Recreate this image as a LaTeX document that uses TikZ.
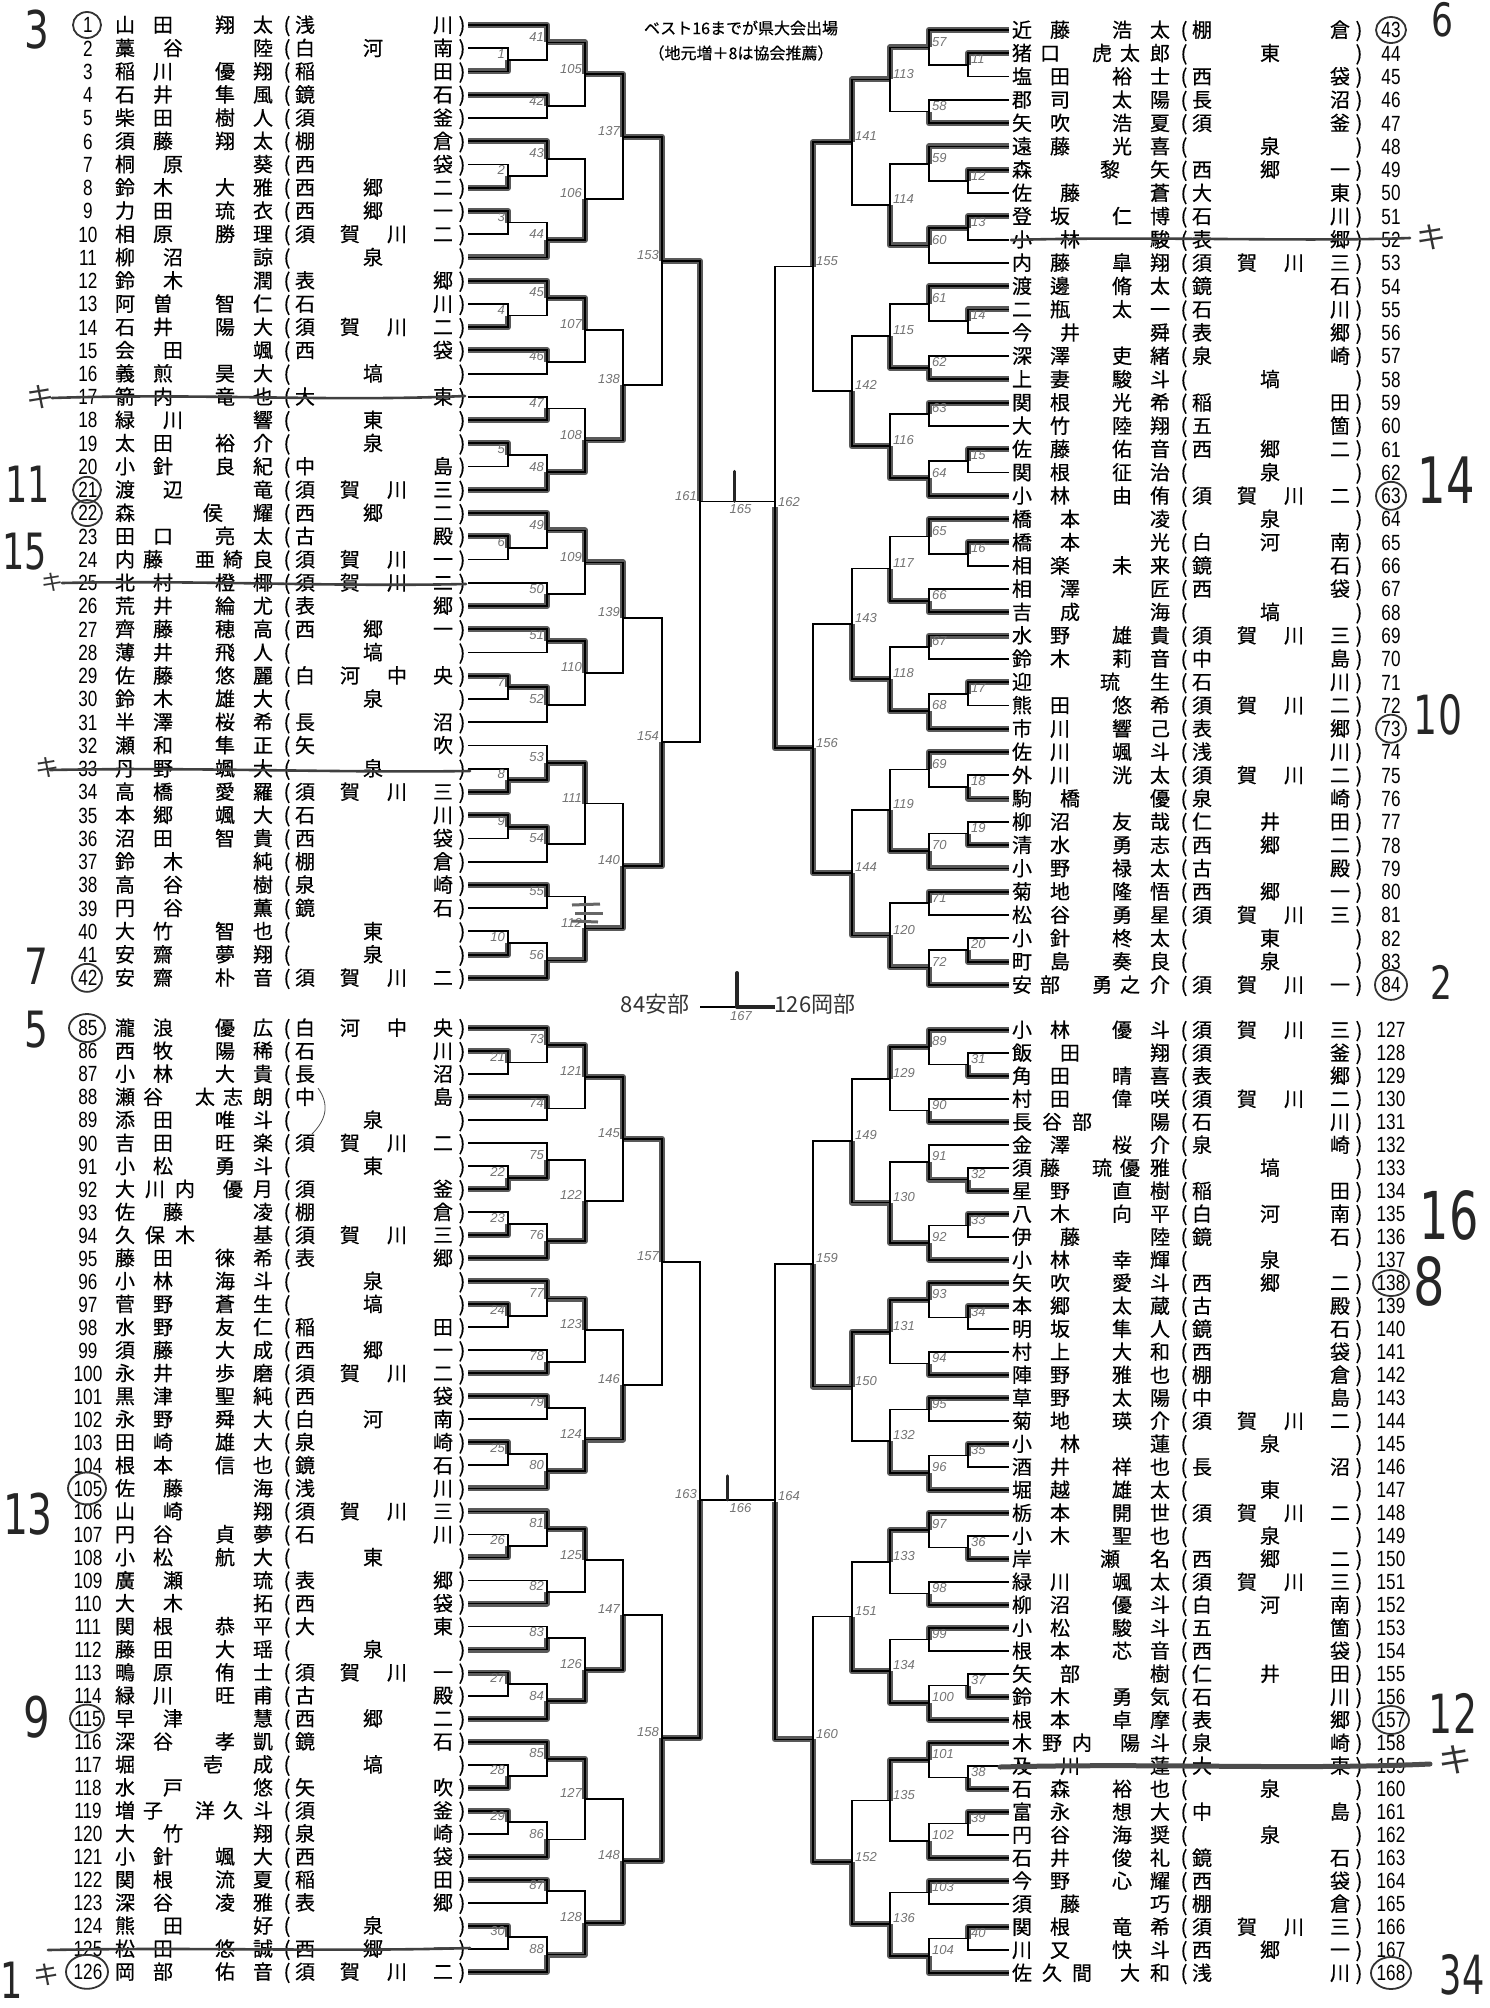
\documentclass[tikz,border=0pt]{standalone}
\usepackage{fontspec}
\usepackage{graphicx}
\setmainfont{Liberation Sans}
\newfontfamily\jp{Noto Sans CJK JP}
\newfontfamily\jpb{Noto Sans CJK JP}[FakeBold=0.5]
\newfontfamily\numf{Liberation Sans}
\newfontfamily\hand{DejaVu Sans}
\usetikzlibrary{calc}
\pgfdeclarelayer{bg}
\pgfsetlayers{bg,main}

\tikzset{
 jpc/.style={font=\jpb\fontsize{20}{20}\selectfont, inner sep=0pt, anchor=base},
 numc/.style={font=\numf\fontsize{22}{22}\selectfont, inner sep=0pt},
 br/.style={line width=1.8pt, black},
 win/.style={line width=6pt, black!65, line join=round},
 lbl/.style={font=\numf\itshape\fontsize{13}{13}\selectfont, text=black!55, inner sep=1pt},
 strikeln/.style={line width=2.6pt, black!75, line cap=round},
 hwt/.style={font=\hand\fontsize{#1}{#1}\selectfont, text=black!85, inner sep=0pt},
 hwj/.style={font=\jp\fontsize{#1}{#1}\selectfont, text=black!80, inner sep=0pt},
 hwline/.style={line width=3pt, black!85, line cap=round},
 circl/.style={line width=1.8pt, black!80},
 headtxt/.style={font=\jpb\fontsize{16}{16}\selectfont, inner sep=0pt},
}

\newcommand\cntlist[2]{\gdef#2{0}\foreach \z in {#1}{\xdef#2{\the\numexpr#2+1\relax}}}
\newcommand\getY[1]{\pgfmathsetmacro\ry{(#1<43)?(25+(#1-1)*23.24):((#1<85)?(30+(#1-43)*23.29):((#1<127)?(1028+(#1-85)*23.02):(1030+(#1-127)*23.0)))}}

% one player row: side, number, surname, given name, school
\newcommand\PR[5]{%
 \getY{#2}%
 \pgfmathsetmacro\by{\ry+7.3}%
 \cntlist{#3}{\nSur}\cntlist{#4}{\nGiv}\cntlist{#5}{\nSch}%
 \ifcase\nSur\or\def\spos{{125,125}}\or
   \ifcase\nGiv\or\def\spos{{125,173}}\or\def\spos{{125,163}}\or\def\spos{{125,153}}\fi
 \or\def\spos{{125,155,185}}\fi
 \ifcase\nGiv\or\def\gpos{{263,263}}\or
   \ifcase\nSur\or\def\gpos{{213,263}}\or\def\gpos{{225,263}}\or\def\gpos{{233,263}}\fi
 \or\def\gpos{{205,233,263}}\fi
 \ifcase\nSch\or\def\cpos{{373,373}}\or\def\cpos{{305,443}}\or\def\cpos{{305,373,443}}\or\def\cpos{{305,350,397,443}}\fi
 \if L#1\relax
   \coordinate (p#2) at (468,\ry);
   \tikzset{cur/.style={}}\def\numx{88}%
 \else
   \coordinate (p#2) at (1009,\ry);
   \tikzset{cur/.style={shift={(897,0)}}}\def\numx{494}%
 \fi
 \begin{scope}[cur]
   \node[numc,anchor=base] (n#2) at (\numx,\ry+7.9) {\scalebox{0.78}[1]{#2}};
   \foreach \ch [count=\kk] in {#3}{\pgfmathsetmacro\xx{\spos[\kk-1]}\node[jpc] (a#2-\kk) at (\xx,\by) {\ch};}
   \foreach \ch [count=\kk] in {#4}{\pgfmathsetmacro\xx{\gpos[\kk-1]}\node[jpc] (b#2-\kk) at (\xx,\by) {\ch};}
   \node[jpc] (o#2) at (287,\by) {(};
   \foreach \ch [count=\kk] in {#5}{\pgfmathsetmacro\xx{\cpos[\kk-1]}\node[jpc] (s#2-\kk) at (\xx,\by) {\ch};}
   \node[jpc] (c#2) at (462,\by) {)};
 \end{scope}
}

% one match: label, input A, input B, vertical x, winner (1 top / 2 bottom), side
\newcommand\Mt[6]{%
 \edef\mL{#1}\edef\mA{#2}\edef\mB{#3}%
 \coordinate (v\mL) at (#4,0);
 \coordinate (m\mL) at ($(\mA -| v\mL)!0.5!(\mB -| v\mL)$);
 \begin{pgfonlayer}{bg}
 \ifcase#5\relax\or \draw[win] (\mA) -- (\mA -| v\mL) -- (m\mL);\or \draw[win] (\mB) -- (\mB -| v\mL) -- (m\mL);\fi
 \end{pgfonlayer}
 \draw[br] (\mA) -- (\mA -| v\mL) -- (\mB -| v\mL) -- (\mB);
 \if L#6\relax \node[lbl,anchor=south east] (l\mL) at ($(m\mL)+(-2,0)$) {\mL};
 \else \node[lbl,anchor=south west] (l\mL) at ($(m\mL)+(2,0)$) {\mL};\fi
}

% one quarter of the draw
\newcommand\Quad[9]{%
 \if L#3\relax \def\xa{508}\def\xb{547}\def\xc{585}\def\xd{623}\def\xe{662}\def\xf{700}%
 \else \def\xa{968}\def\xb{929}\def\xc{890}\def\xd{852}\def\xe{813}\def\xf{775}\fi
 \def\wA{{#4}}\def\wB{{#5}}\def\wC{{#6}}\def\wD{{#7}}\def\wE{{#8}}%
 \foreach \ia/\ib [count=\i] in {2/3,7/8,9/10,13/14,19/20,23/24,29/30,33/34,35/36,40/41}{%
   \pgfmathtruncatemacro\lab{10*#1+\i}%
   \pgfmathtruncatemacro\pa{#2+\ia}\pgfmathtruncatemacro\pb{#2+\ib}%
   \pgfmathtruncatemacro\w{\wA[\i-1]}%
   \Mt{\lab}{p\pa}{p\pb}{\xa}{\w}{#3}}
 \foreach \ta/\na/\tb/\nb [count=\i] in {0/1/1/1,0/4/0/5,0/6/1/2,1/3/0/11,0/12/1/4,0/15/0/16,0/17/0/18,1/5/0/21,0/22/1/6,0/25/0/26,0/27/0/28,1/7/0/31,0/32/1/8,1/9/0/37,0/38/0/39,1/10/0/42}{%
   \pgfmathtruncatemacro\lab{40+16*#1+\i}%
   \ifnum\ta=0 \pgfmathtruncatemacro\tmp{#2+\na}\edef\inA{p\tmp}\else\pgfmathtruncatemacro\tmp{10*#1+\na}\edef\inA{m\tmp}\fi
   \ifnum\tb=0 \pgfmathtruncatemacro\tmp{#2+\nb}\edef\inB{p\tmp}\else\pgfmathtruncatemacro\tmp{10*#1+\nb}\edef\inB{m\tmp}\fi
   \pgfmathtruncatemacro\w{\wB[\i-1]}%
   \Mt{\lab}{\inA}{\inB}{\xb}{\w}{#3}}
 \foreach \i in {1,...,8}{%
   \pgfmathtruncatemacro\lab{104+8*#1+\i}%
   \pgfmathtruncatemacro\ma{40+16*#1+2*\i-1}\pgfmathtruncatemacro\mb{\ma+1}%
   \pgfmathtruncatemacro\w{\wC[\i-1]}%
   \Mt{\lab}{m\ma}{m\mb}{\xc}{\w}{#3}}
 \foreach \i in {1,...,4}{%
   \pgfmathtruncatemacro\lab{136+4*#1+\i}%
   \pgfmathtruncatemacro\ma{104+8*#1+2*\i-1}\pgfmathtruncatemacro\mb{\ma+1}%
   \pgfmathtruncatemacro\w{\wD[\i-1]}%
   \Mt{\lab}{m\ma}{m\mb}{\xd}{\w}{#3}}
 \foreach \i in {1,2}{%
   \pgfmathtruncatemacro\lab{152+2*#1+\i}%
   \pgfmathtruncatemacro\ma{136+4*#1+2*\i-1}\pgfmathtruncatemacro\mb{\ma+1}%
   \pgfmathtruncatemacro\w{\wE[\i-1]}%
   \Mt{\lab}{m\ma}{m\mb}{\xe}{\w}{#3}}
 \pgfmathtruncatemacro\lab{161+#1}%
 \pgfmathtruncatemacro\ma{153+2*#1}\pgfmathtruncatemacro\mb{\ma+1}%
 \Mt{\lab}{m\ma}{m\mb}{\xf}{#9}{#3}
}

\begin{document}
\begin{tikzpicture}[x=1pt,y=-1pt]
\useasboundingbox (0,0) rectangle (1490,2008);
\begin{pgfonlayer}{bg}\fill[white] (0,0) rectangle (1490,2008);\end{pgfonlayer}

% heading
\node[headtxt] (h1) at (741,28) {ベスト16までが県大会出場};
\node[headtxt] (h2) at (741,53) {（地元増＋8は協会推薦）};

% ---------- left top ----------
\PR{L}{1}{山,田}{翔,太}{浅,川}
\PR{L}{2}{藁,谷}{陸}{白,河,南}
\PR{L}{3}{稲,川}{優,翔}{稲,田}
\PR{L}{4}{石,井}{隼,風}{鏡,石}
\PR{L}{5}{柴,田}{樹,人}{須,釜}
\PR{L}{6}{須,藤}{翔,太}{棚,倉}
\PR{L}{7}{桐,原}{葵}{西,袋}
\PR{L}{8}{鈴,木}{大,雅}{西,郷,二}
\PR{L}{9}{力,田}{琉,衣}{西,郷,一}
\PR{L}{10}{相,原}{勝,理}{須,賀,川,二}
\PR{L}{11}{柳,沼}{諒}{泉}
\PR{L}{12}{鈴,木}{潤}{表,郷}
\PR{L}{13}{阿,曽}{智,仁}{石,川}
\PR{L}{14}{石,井}{陽,大}{須,賀,川,二}
\PR{L}{15}{会,田}{颯}{西,袋}
\PR{L}{16}{義,煎}{昊,大}{塙}
\PR{L}{17}{箭,内}{竜,也}{大,東}
\PR{L}{18}{緑,川}{響}{東}
\PR{L}{19}{太,田}{裕,介}{泉}
\PR{L}{20}{小,針}{良,紀}{中,島}
\PR{L}{21}{渡,辺}{竜}{須,賀,川,三}
\PR{L}{22}{森}{侯,耀}{西,郷,二}
\PR{L}{23}{田,口}{亮,太}{古,殿}
\PR{L}{24}{内,藤}{亜,綺,良}{須,賀,川,一}
\PR{L}{25}{北,村}{橙,椰}{須,賀,川,二}
\PR{L}{26}{荒,井}{綸,尤}{表,郷}
\PR{L}{27}{齊,藤}{穂,高}{西,郷,一}
\PR{L}{28}{薄,井}{飛,人}{塙}
\PR{L}{29}{佐,藤}{悠,麗}{白,河,中,央}
\PR{L}{30}{鈴,木}{雄,大}{泉}
\PR{L}{31}{半,澤}{桜,希}{長,沼}
\PR{L}{32}{瀬,和}{隼,正}{矢,吹}
\PR{L}{33}{丹,野}{颯,大}{泉}
\PR{L}{34}{高,橋}{愛,羅}{須,賀,川,三}
\PR{L}{35}{本,郷}{颯,大}{石,川}
\PR{L}{36}{沼,田}{智,貴}{西,袋}
\PR{L}{37}{鈴,木}{純}{棚,倉}
\PR{L}{38}{高,谷}{樹}{泉,崎}
\PR{L}{39}{円,谷}{薫}{鏡,石}
\PR{L}{40}{大,竹}{智,也}{東}
\PR{L}{41}{安,齋}{夢,翔}{泉}
\PR{L}{42}{安,齋}{朴,音}{須,賀,川,二}
% ---------- right top ----------
\PR{R}{43}{近,藤}{浩,太}{棚,倉}
\PR{R}{44}{猪,口}{虎,太,郎}{東}
\PR{R}{45}{塩,田}{裕,士}{西,袋}
\PR{R}{46}{郡,司}{太,陽}{長,沼}
\PR{R}{47}{矢,吹}{浩,夏}{須,釜}
\PR{R}{48}{遠,藤}{光,喜}{泉}
\PR{R}{49}{森}{黎,矢}{西,郷,一}
\PR{R}{50}{佐,藤}{蒼}{大,東}
\PR{R}{51}{登,坂}{仁,博}{石,川}
\PR{R}{52}{小,林}{駿}{表,郷}
\PR{R}{53}{内,藤}{皐,翔}{須,賀,川,三}
\PR{R}{54}{渡,邊}{脩,太}{鏡,石}
\PR{R}{55}{二,瓶}{太,一}{石,川}
\PR{R}{56}{今,井}{舜}{表,郷}
\PR{R}{57}{深,澤}{吏,緒}{泉,崎}
\PR{R}{58}{上,妻}{駿,斗}{塙}
\PR{R}{59}{関,根}{光,希}{稲,田}
\PR{R}{60}{大,竹}{陸,翔}{五,箇}
\PR{R}{61}{佐,藤}{佑,音}{西,郷,二}
\PR{R}{62}{関,根}{征,治}{泉}
\PR{R}{63}{小,林}{由,侑}{須,賀,川,二}
\PR{R}{64}{橋,本}{凌}{泉}
\PR{R}{65}{橋,本}{光}{白,河,南}
\PR{R}{66}{相,楽}{未,来}{鏡,石}
\PR{R}{67}{相,澤}{匠}{西,袋}
\PR{R}{68}{吉,成}{海}{塙}
\PR{R}{69}{水,野}{雄,貴}{須,賀,川,三}
\PR{R}{70}{鈴,木}{莉,音}{中,島}
\PR{R}{71}{迎}{琉,生}{石,川}
\PR{R}{72}{熊,田}{悠,希}{須,賀,川,二}
\PR{R}{73}{市,川}{響,己}{表,郷}
\PR{R}{74}{佐,川}{颯,斗}{浅,川}
\PR{R}{75}{外,川}{洸,太}{須,賀,川,二}
\PR{R}{76}{駒,橋}{優}{泉,崎}
\PR{R}{77}{柳,沼}{友,哉}{仁,井,田}
\PR{R}{78}{清,水}{勇,志}{西,郷,二}
\PR{R}{79}{小,野}{禄,太}{古,殿}
\PR{R}{80}{菊,地}{隆,悟}{西,郷,一}
\PR{R}{81}{松,谷}{勇,星}{須,賀,川,三}
\PR{R}{82}{小,針}{柊,太}{東}
\PR{R}{83}{町,島}{奏,良}{泉}
\PR{R}{84}{安,部}{勇,之,介}{須,賀,川,一}
% ---------- left bottom ----------
\PR{L}{85}{瀧,浪}{優,広}{白,河,中,央}
\PR{L}{86}{西,牧}{陽,稀}{石,川}
\PR{L}{87}{小,林}{大,貴}{長,沼}
\PR{L}{88}{瀬,谷}{太,志,朗}{中,島}
\PR{L}{89}{添,田}{唯,斗}{泉}
\PR{L}{90}{吉,田}{旺,楽}{須,賀,川,二}
\PR{L}{91}{小,松}{勇,斗}{東}
\PR{L}{92}{大,川,内}{優,月}{須,釜}
\PR{L}{93}{佐,藤}{凌}{棚,倉}
\PR{L}{94}{久,保,木}{基}{須,賀,川,三}
\PR{L}{95}{藤,田}{徠,希}{表,郷}
\PR{L}{96}{小,林}{海,斗}{泉}
\PR{L}{97}{菅,野}{蒼,生}{塙}
\PR{L}{98}{水,野}{友,仁}{稲,田}
\PR{L}{99}{須,藤}{大,成}{西,郷,一}
\PR{L}{100}{永,井}{歩,磨}{須,賀,川,二}
\PR{L}{101}{黒,津}{聖,純}{西,袋}
\PR{L}{102}{永,野}{舜,大}{白,河,南}
\PR{L}{103}{田,崎}{雄,大}{泉,崎}
\PR{L}{104}{根,本}{信,也}{鏡,石}
\PR{L}{105}{佐,藤}{海}{浅,川}
\PR{L}{106}{山,崎}{翔}{須,賀,川,三}
\PR{L}{107}{円,谷}{貞,夢}{石,川}
\PR{L}{108}{小,松}{航,大}{東}
\PR{L}{109}{廣,瀬}{琉}{表,郷}
\PR{L}{110}{大,木}{拓}{西,袋}
\PR{L}{111}{関,根}{恭,平}{大,東}
\PR{L}{112}{藤,田}{大,瑶}{泉}
\PR{L}{113}{鴫,原}{侑,士}{須,賀,川,一}
\PR{L}{114}{緑,川}{旺,甫}{古,殿}
\PR{L}{115}{早,津}{慧}{西,郷,二}
\PR{L}{116}{深,谷}{孝,凱}{鏡,石}
\PR{L}{117}{堀}{壱,成}{塙}
\PR{L}{118}{水,戸}{悠}{矢,吹}
\PR{L}{119}{増,子}{洋,久,斗}{須,釜}
\PR{L}{120}{大,竹}{翔}{泉,崎}
\PR{L}{121}{小,針}{颯,大}{西,袋}
\PR{L}{122}{関,根}{流,夏}{稲,田}
\PR{L}{123}{深,谷}{凌,雅}{表,郷}
\PR{L}{124}{熊,田}{好}{泉}
\PR{L}{125}{松,田}{悠,誠}{西,郷,一}
\PR{L}{126}{岡,部}{佑,音}{須,賀,川,二}
% ---------- right bottom ----------
\PR{R}{127}{小,林}{優,斗}{須,賀,川,三}
\PR{R}{128}{飯,田}{翔}{須,釜}
\PR{R}{129}{角,田}{晴,喜}{表,郷}
\PR{R}{130}{村,田}{偉,咲}{須,賀,川,二}
\PR{R}{131}{長,谷,部}{陽}{石,川}
\PR{R}{132}{金,澤}{桜,介}{泉,崎}
\PR{R}{133}{須,藤}{琉,優,雅}{塙}
\PR{R}{134}{星,野}{直,樹}{稲,田}
\PR{R}{135}{八,木}{向,平}{白,河,南}
\PR{R}{136}{伊,藤}{陸}{鏡,石}
\PR{R}{137}{小,林}{幸,輝}{泉}
\PR{R}{138}{矢,吹}{愛,斗}{西,郷,二}
\PR{R}{139}{本,郷}{太,蔵}{古,殿}
\PR{R}{140}{明,坂}{隼,人}{鏡,石}
\PR{R}{141}{村,上}{大,和}{西,袋}
\PR{R}{142}{陣,野}{雅,也}{棚,倉}
\PR{R}{143}{草,野}{太,陽}{中,島}
\PR{R}{144}{菊,地}{瑛,介}{須,賀,川,二}
\PR{R}{145}{小,林}{蓮}{泉}
\PR{R}{146}{酒,井}{祥,也}{長,沼}
\PR{R}{147}{堀,越}{雄,太}{東}
\PR{R}{148}{栃,本}{開,世}{須,賀,川,二}
\PR{R}{149}{小,木}{聖,也}{泉}
\PR{R}{150}{岸}{瀬,名}{西,郷,二}
\PR{R}{151}{緑,川}{颯,太}{須,賀,川,三}
\PR{R}{152}{柳,沼}{優,斗}{白,河,南}
\PR{R}{153}{小,松}{駿,斗}{五,箇}
\PR{R}{154}{根,本}{芯,音}{西,袋}
\PR{R}{155}{矢,部}{樹}{仁,井,田}
\PR{R}{156}{鈴,木}{勇,気}{石,川}
\PR{R}{157}{根,本}{卓,摩}{表,郷}
\PR{R}{158}{木,野,内}{陽,斗}{泉,崎}
\PR{R}{159}{及,川}{蓮}{大,東}
\PR{R}{160}{石,森}{裕,也}{泉}
\PR{R}{161}{富,永}{想,大}{中,島}
\PR{R}{162}{円,谷}{海,奨}{泉}
\PR{R}{163}{石,井}{俊,礼}{鏡,石}
\PR{R}{164}{今,野}{心,耀}{西,袋}
\PR{R}{165}{須,藤}{巧}{棚,倉}
\PR{R}{166}{関,根}{竜,希}{須,賀,川,三}
\PR{R}{167}{川,又}{快,斗}{西,郷,一}
\PR{R}{168}{佐,久,間}{大,和}{浅,川}

% ---------- brackets ----------
\Quad{0}{0}{L}{2,2,1,2,1,1,1,2,1,2}{1,1,1,2,1,1,2,2,1,2,1,1,2,1,1,2}{1,2,1,2,1,1,1,2}{1,2,1,2}{1,2}{1}
\Quad{1}{42}{R}{1,1,1,1,1,1,1,2,2,2}{1,2,1,1,1,2,1,2,1,2,1,2,1,2,1,2}{1,2,2,2,2,2,2,2}{1,2,2,2}{1,2}{2}
\Quad{2}{84}{L}{1,2,2,1,1,2,1,2,1,1}{1,1,2,2,1,2,1,2,1,2,2,2,1,2,1,2}{1,2,1,2,1,2,1,2}{1,2,2,2}{1,2}{2}
\Quad{3}{126}{R}{2,2,1,1,1,2,2,2,1,1}{1,2,2,2,1,2,1,2,1,2,1,2,1,2,1,2}{1,2,1,2,1,2,1,2}{2,1,2,2}{2,2}{2}

% ---------- finals ----------
\draw[br] (m161) -- (m161 -| m162);
\path (m161) -- (m161 -| m162) coordinate[pos=0.5] (f165);
\node[lbl,anchor=north] (l165) at ($(f165)+(3,2)$) {165};
\draw[hwline] ($(f165)+(-3,0)$) -- ++(0,-30);

\draw[br] (m163) -- (m163 -| m164);
\path (m163) -- (m163 -| m164) coordinate[pos=0.5] (f166);
\node[lbl,anchor=north] (l166) at ($(f166)+(3,2)$) {166};
\draw[hwline] ($(f166)+(-10,0)$) -- ++(0,-24);

\coordinate (g167a) at (700,1007);
\coordinate (g167b) at (775,1007);
\coordinate (g167c) at (737,1007);
\draw[br] (g167a) -- (g167b);
\draw[line width=3.5pt, black!85] (g167c) -- (g167b);
\draw[line width=4pt, black!85, line cap=round] (g167c) -- ++(0,-34);
\node[lbl,anchor=north] (l167) at (741,1010) {167};
\node[hwj=22] (fin1) at (655,1004) {84安部};
\node[hwj=22] (fin2) at (815,1004) {126岡部};

% stray marks
\draw[line width=3pt, black!60] (572,905) -- (600,904);
\draw[line width=3pt, black!60] (575,913) -- (603,913);
\draw[line width=3pt, black!60] (572,921) -- (598,922);
\draw[line width=0.8pt, black!70] (318,1088) .. controls (330,1105) and (326,1120) .. (312,1134);

% ---------- crossed-out rows ----------
\draw[strikeln] (52,398) .. controls (200,393) and (330,402) .. (465,396);
\draw[strikeln] (62,583) .. controls (200,580) and (330,587) .. (466,584);
\draw[strikeln] (50,770) .. controls (200,767) and (330,773) .. (470,771);
\draw[strikeln] (48,1950) .. controls (200,1947) and (330,1952) .. (470,1948);
\draw[strikeln] (1011,240) .. controls (1150,236) and (1300,242) .. (1410,238);
\draw[strikeln, line width=5pt, black!70] (1000,1767) .. controls (1150,1763) and (1300,1770) .. (1430,1764);

% ---------- circled numbers ----------
\foreach \nn/\rx/\rr in {1/14/13,21/14/13,22/15/13,42/15/14,85/18/14,105/19/16,115/17/14,126/21/17}{%
  \getY{\nn}\draw[circl] (87,\ry) ellipse [x radius=\rx pt, y radius=\rr pt];}
\foreach \nn/\rx/\rr in {43/15/13,63/15/14,73/15/14,84/16/15,138/18/13,157/18/14,168/20/16}{%
  \getY{\nn}\draw[circl] (1391,\ry) ellipse [x radius=\rx pt, y radius=\rr pt];}

% ---------- handwritten notes ----------
\node[hwt=52] (w3) at (37,30) {\scalebox{0.75}[1]{3}};
\node[hwj=28] (k17) at (41,397) {キ};
\node[hwt=50] (w11) at (28,484) {\scalebox{0.7}[1]{11}};
\node[hwt=50] (w15) at (25,552) {\scalebox{0.7}[1]{15}};
\node[hwj=22] (k25) at (52,582) {キ};
\node[hwj=24] (k33) at (47,768) {キ};
\node[hwt=50] (w7) at (36,966) {\scalebox{0.75}[1]{7}};
\node[hwt=50] (w5) at (36,1030) {\scalebox{0.75}[1]{5}};
\node[hwt=56] (w13) at (28,1514) {\scalebox{0.7}[1]{13}};
\node[hwt=56] (w9) at (37,1717) {\scalebox{0.75}[1]{9}};
\node[hwt=50] (w1) at (12,1980) {\scalebox{0.7}[1]{1}};
\node[hwj=26] (k125) at (47,1975) {キ};
\node[hwt=46] (w6) at (1442,20) {\scalebox{0.75}[1]{6}};
\node[hwj=30] (k52) at (1431,237) {キ};
\node[hwt=64] (w14) at (1446,480) {\scalebox{0.7}[1]{14}};
\node[hwt=54] (w10) at (1438,715) {\scalebox{0.7}[1]{10}};
\node[hwt=46] (w2) at (1441,982) {\scalebox{0.75}[1]{2}};
\node[hwt=66] (w16) at (1449,1215) {\scalebox{0.7}[1]{16}};
\node[hwt=66] (w8) at (1429,1281) {\scalebox{0.75}[1]{8}};
\node[hwt=54] (w12) at (1453,1713) {\scalebox{0.7}[1]{12}};
\node[hwj=34] (k159) at (1455,1760) {キ};
\node[hwt=54] (w34) at (1462,1975) {\scalebox{0.65}[1]{34}};
\end{tikzpicture}
\end{document}
